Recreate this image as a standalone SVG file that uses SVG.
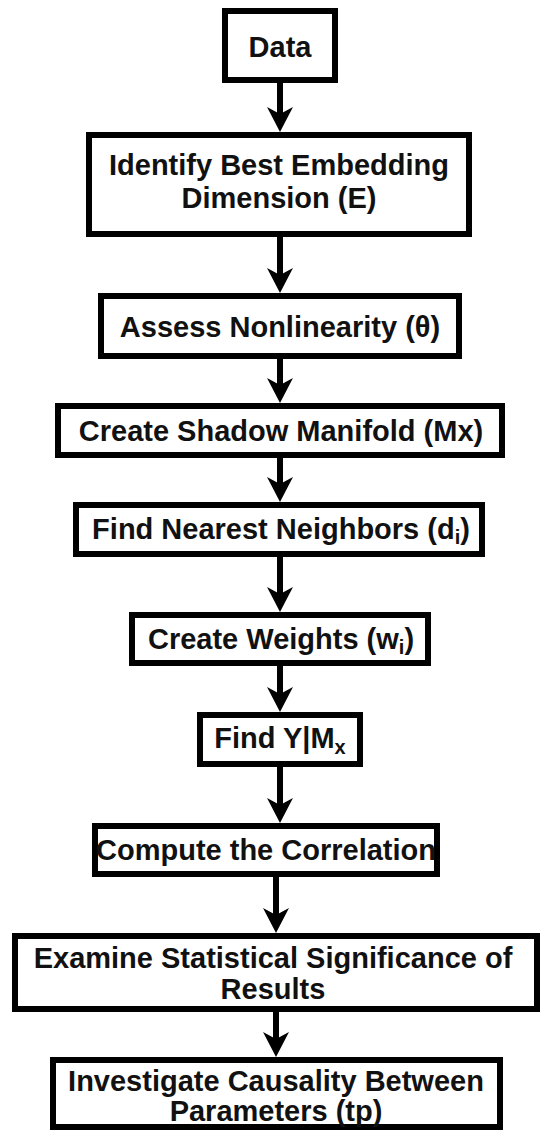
<svg xmlns="http://www.w3.org/2000/svg" width="540" height="1133" viewBox="0 0 540 1133">
<style>
.box{fill:#fff;stroke:#000;stroke-width:6}
.t{font-family:"Liberation Sans",Arial,sans-serif;font-weight:bold;font-size:29px;fill:#111;text-anchor:middle}
.c{stroke:#000;stroke-width:6;fill:none}
</style>
<defs>
<marker id="ah" markerUnits="userSpaceOnUse" viewBox="0 0 25 26" refX="7" refY="13" markerWidth="25" markerHeight="26" orient="auto">
<path d="M0,0 L25,13 L0,26 L7,13 Z" fill="#000"/>
</marker>
</defs>
<rect width="540" height="1133" fill="#fff"/>
<g id="connectors">
<line class="c" x1="280" y1="83" x2="280" y2="114" marker-end="url(#ah)"/>
<line class="c" x1="280" y1="237" x2="280" y2="275" marker-end="url(#ah)"/>
<line class="c" x1="280" y1="359" x2="280" y2="385" marker-end="url(#ah)"/>
<line class="c" x1="280" y1="458" x2="280" y2="484" marker-end="url(#ah)"/>
<line class="c" x1="280" y1="557" x2="280" y2="594" marker-end="url(#ah)"/>
<line class="c" x1="280" y1="666" x2="280" y2="694" marker-end="url(#ah)"/>
<line class="c" x1="280" y1="767" x2="280" y2="805" marker-end="url(#ah)"/>
<line class="c" x1="276" y1="877" x2="276" y2="915" marker-end="url(#ah)"/>
<line class="c" x1="276" y1="1012" x2="276" y2="1039" marker-end="url(#ah)"/>
</g>
<g id="n-data">
<rect class="box" x="225" y="11" width="110" height="69"/>
<text class="t" x="280" y="57">Data</text>
</g>
<g id="n-embed">
<rect class="box" x="89" y="135" width="380" height="99"/>
<text class="t" x="279" y="175">Identify Best Embedding</text>
<text class="t" x="279" y="208">Dimension (E)</text>
</g>
<g id="n-nonlin">
<rect class="box" x="101" y="296" width="358" height="60"/>
<text class="t" x="280" y="337">Assess Nonlinearity (θ)</text>
</g>
<g id="n-shadow">
<rect class="box" x="58" y="406" width="444" height="49"/>
<text class="t" x="281" y="441">Create Shadow Manifold (Mx)</text>
</g>
<g id="n-neigh">
<rect class="box" x="76" y="505" width="406" height="49"/>
<text class="t" x="281" y="539">Find Nearest Neighbors (d<tspan font-size="20" dy="5">i</tspan><tspan dy="-5">)</tspan></text>
</g>
<g id="n-weights">
<rect class="box" x="132" y="615" width="296" height="48"/>
<text class="t" x="281" y="649">Create Weights (w<tspan font-size="20" dy="5">i</tspan><tspan dy="-5">)</tspan></text>
</g>
<g id="n-findy">
<rect class="box" x="200" y="715" width="160" height="49"/>
<text class="t" x="280" y="748">Find Y|M<tspan font-size="20" dy="6">x</tspan></text>
</g>
<g id="n-corr">
<rect class="box" x="95" y="826" width="342" height="48"/>
<text class="t" x="266" y="860">Compute the Correlation</text>
</g>
<g id="n-signif">
<rect class="box" x="15" y="936" width="522" height="73"/>
<text class="t" x="273" y="968">Examine Statistical Significance of</text>
<text class="t" x="273" y="999">Results</text>
</g>
<g id="n-causal">
<rect class="box" x="53" y="1060" width="447" height="67"/>
<text class="t" x="276" y="1091">Investigate Causality Between</text>
<text class="t" x="276" y="1121">Parameters (tp)</text>
</g>
</svg>
